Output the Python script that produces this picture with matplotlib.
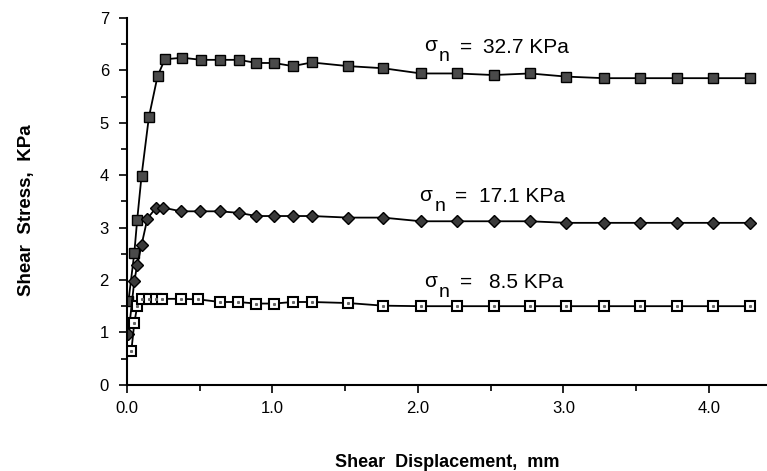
import matplotlib.pyplot as plt
from matplotlib.ticker import MultipleLocator

plt.rcParams['font.family'] = ['Liberation Sans', 'DejaVu Sans']

# Shear displacement (mm) and shear stress (KPa) for each normal stress
x_327 = [0.01, 0.05, 0.07, 0.10, 0.15, 0.21, 0.26, 0.38, 0.51, 0.64, 0.77, 0.89,
         1.01, 1.14, 1.27, 1.52, 1.76, 2.02, 2.27, 2.52, 2.77, 3.02, 3.28, 3.53,
         3.78, 4.03, 4.28]
y_327 = [1.60, 2.51, 3.15, 3.99, 5.10, 5.89, 6.21, 6.24, 6.20, 6.20, 6.20, 6.14,
         6.14, 6.08, 6.15, 6.08, 6.04, 5.94, 5.94, 5.91, 5.94, 5.88, 5.85, 5.85,
         5.85, 5.85, 5.85]

x_171 = [0.01, 0.05, 0.07, 0.10, 0.14, 0.20, 0.25, 0.37, 0.50, 0.64, 0.77, 0.89,
         1.01, 1.14, 1.27, 1.52, 1.76, 2.02, 2.27, 2.52, 2.77, 3.02, 3.28, 3.53,
         3.78, 4.03, 4.28]
y_171 = [0.97, 1.98, 2.28, 2.67, 3.17, 3.38, 3.38, 3.31, 3.31, 3.31, 3.28, 3.22,
         3.22, 3.22, 3.22, 3.19, 3.19, 3.12, 3.12, 3.12, 3.12, 3.09, 3.09, 3.09,
         3.09, 3.09, 3.09]

x_85 = [0.03, 0.05, 0.07, 0.10, 0.15, 0.20, 0.24, 0.37, 0.49, 0.64, 0.76, 0.89,
        1.01, 1.14, 1.27, 1.52, 1.76, 2.02, 2.27, 2.52, 2.77, 3.02, 3.28, 3.53,
        3.78, 4.03, 4.28]
y_85 = [0.65, 1.18, 1.50, 1.64, 1.64, 1.64, 1.64, 1.64, 1.63, 1.58, 1.58, 1.55,
        1.55, 1.58, 1.58, 1.56, 1.51, 1.50, 1.50, 1.50, 1.50, 1.50, 1.50, 1.50,
        1.50, 1.50, 1.50]

# label text and anchor (x, y) in data units
label_vals = ['32.7 KPa', '17.1 KPa', '8.5 KPa']
label_x = [2.04, 2.01, 2.04]
label_y = [6.44, 3.59, 1.95]
value_shift = [17, 17, 21]  # points from '=' to the number

fig = plt.figure(figsize=(7.67, 4.71), dpi=100)
ax = fig.add_axes([0.1656, 0.183, 0.8344, 0.779])

ax.plot(x_327, y_327, color='black', lw=1.3, marker='s', ms=6.5,
        mfc='#4a4a4a', mec='black', mew=1.0)
ax.plot(x_171, y_171, color='black', lw=1.3, marker='D', ms=6.5,
        mfc='#3a3a3a', mec='black', mew=1.0)
ax.plot(x_85, y_85, color='black', lw=1.3, marker='s', ms=6.5,
        mfc='white', mec='black', mew=1.5)
ax.plot(x_85, y_85, ls='none', marker='s', ms=1.2, mfc='#666666', mec='#666666')

for val, lx, ly, shift in zip(label_vals, label_x, label_y, value_shift):
    fs = 15
    ax.annotate('σ', (lx, ly), xytext=(0, 1), textcoords='offset points',
                fontsize=fs, va='center', ha='left')
    ax.annotate('n', (lx, ly), xytext=(11, -7), textcoords='offset points',
                fontsize=fs - 1, va='center', ha='left')
    ax.annotate('=', (lx, ly), xytext=(26, 0), textcoords='offset points',
                fontsize=fs, va='center', ha='left')
    ax.annotate(val, (lx, ly), xytext=(26 + shift, 0), textcoords='offset points',
                fontsize=fs, va='center', ha='left')

ax.set_xlim(0, 4.40)
ax.set_ylim(0, 7)
ax.xaxis.set_minor_locator(MultipleLocator(0.5))
ax.yaxis.set_major_locator(MultipleLocator(1))
ax.yaxis.set_minor_locator(MultipleLocator(0.5))
ax.set_xticks([0, 1, 2, 3, 4], ['0.0', '1.0', '2.0', '3.0', '4.0'])
ax.tick_params(which='major', length=6, width=1.2, labelsize=12, direction='out')
ax.tick_params(which='minor', length=4, width=1.2, direction='out')
ax.tick_params(axis='x', pad=6)
ax.tick_params(axis='y', pad=7)

for side in ['top', 'right']:
    ax.spines[side].set_visible(False)
for side in ['left', 'bottom']:
    ax.spines[side].set_linewidth(1.5)

ax.set_xlabel('Shear  Displacement,  mm', fontsize=13, fontweight='bold', labelpad=27)
ax.set_ylabel('Shear  Stress,  KPa', fontsize=13.5, fontweight='bold')
ax.yaxis.set_label_coords(-0.144, 0.475)

fig.savefig('out.png', dpi=100)
